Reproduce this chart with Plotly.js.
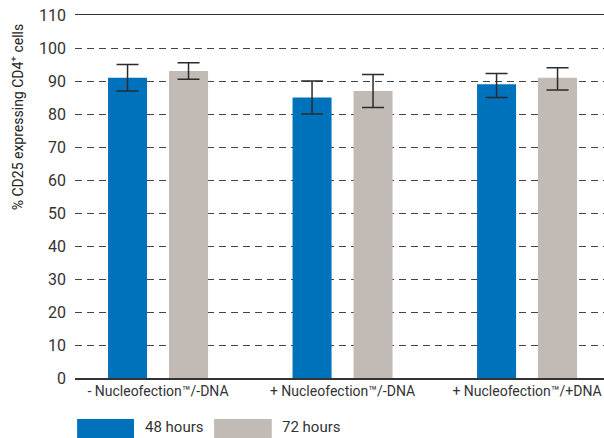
<!DOCTYPE html>
<html>
<head>
<meta charset="utf-8">
<script src="https://cdn.plot.ly/plotly-3.0.1.min.js"></script>
<style>html,body{margin:0;padding:0;background:#fff;}#chart{width:604px;height:438px;}</style>
</head>
<body>
<div id="chart"></div>
<script>
const categories = ["- Nucleofection™/-DNA", "+ Nucleofection™/-DNA", "+ Nucleofection™/+DNA"];
const seriesNames = ["48 hours", "72 hours"];
const values48 = [91, 85, 89];
const errPlus48 = [4, 5, 3.3];
const errMinus48 = [4, 5, 4];
const values72 = [93, 87, 91];
const errPlus72 = [2.5, 5, 3];
const errMinus72 = [2.5, 5, 3.7];
const yTicks = [0, 10, 20, 30, 40, 50, 60, 70, 80, 90, 100, 110];
const yTitle = "% CD25 expressing CD4<sup>+</sup> cells";

const FONT = "Roboto, 'DejaVu Sans', sans-serif";
const colors = ["#0072BC", "#C2BAB5"];

const errStyle = {color: "#2b2b2b", thickness: 1.5, width: 11};

const traces = [
  {type: "bar", name: seriesNames[0], x: categories, y: values48, marker: {color: colors[0]},
   error_y: Object.assign({type: "data", symmetric: false, array: errPlus48, arrayminus: errMinus48}, errStyle)},
  {type: "bar", name: seriesNames[1], x: categories, y: values72, marker: {color: colors[1]},
   error_y: Object.assign({type: "data", symmetric: false, array: errPlus72, arrayminus: errMinus72}, errStyle)}
];

const layout = {
  width: 604, height: 438,
  margin: {l: 75, r: 0, t: 15, b: 60},
  paper_bgcolor: "#fff", plot_bgcolor: "#fff",
  barmode: "group", bargap: 0.339, bargroupgap: 0.36,
  showlegend: false,
  font: {family: FONT, color: "#333", size: 15},
  xaxis: {
    type: "category", range: [-0.45, 2.417],
    showline: true, linecolor: "#333", linewidth: 1.5, mirror: true,
    showgrid: false, ticks: "", tickfont: {size: 14, color: "#333"}, ticklen: 0
  },
  yaxis: {
    range: [0, 110], tickvals: yTicks, ticktext: yTicks.map(String),
    showgrid: true, gridcolor: "#444", griddash: "7px,5px", gridwidth: 1,
    zeroline: false, showline: false, ticks: "", ticklabelstandoff: 8,
    tickfont: {size: 16, color: "#333"}
  },
  shapes: [
    {type: "rect", xref: "paper", yref: "paper", x0: 0.004, x1: 0.1115, y0: -0.113, y1: -0.175, fillcolor: colors[0], line: {width: 0}},
    {type: "rect", xref: "paper", yref: "paper", x0: 0.263, x1: 0.372, y0: -0.113, y1: -0.175, fillcolor: colors[1], line: {width: 0}}
  ],
  annotations: [
    {xref: "paper", yref: "paper", x: -0.108, y: 0.718, xanchor: "center", yanchor: "middle", textangle: -90, text: yTitle, showarrow: false, font: {size: 14, color: "#222", family: FONT}},
    {xref: "paper", yref: "paper", x: 0.1285, y: -0.136, xanchor: "left", yanchor: "middle", text: seriesNames[0], showarrow: false, font: {size: 15, color: "#333"}},
    {xref: "paper", yref: "paper", x: 0.3875, y: -0.136, xanchor: "left", yanchor: "middle", text: seriesNames[1], showarrow: false, font: {size: 15, color: "#333"}}
  ]
};

Plotly.newPlot("chart", traces, layout, {staticPlot: true, displayModeBar: false});
</script>
</body>
</html>
